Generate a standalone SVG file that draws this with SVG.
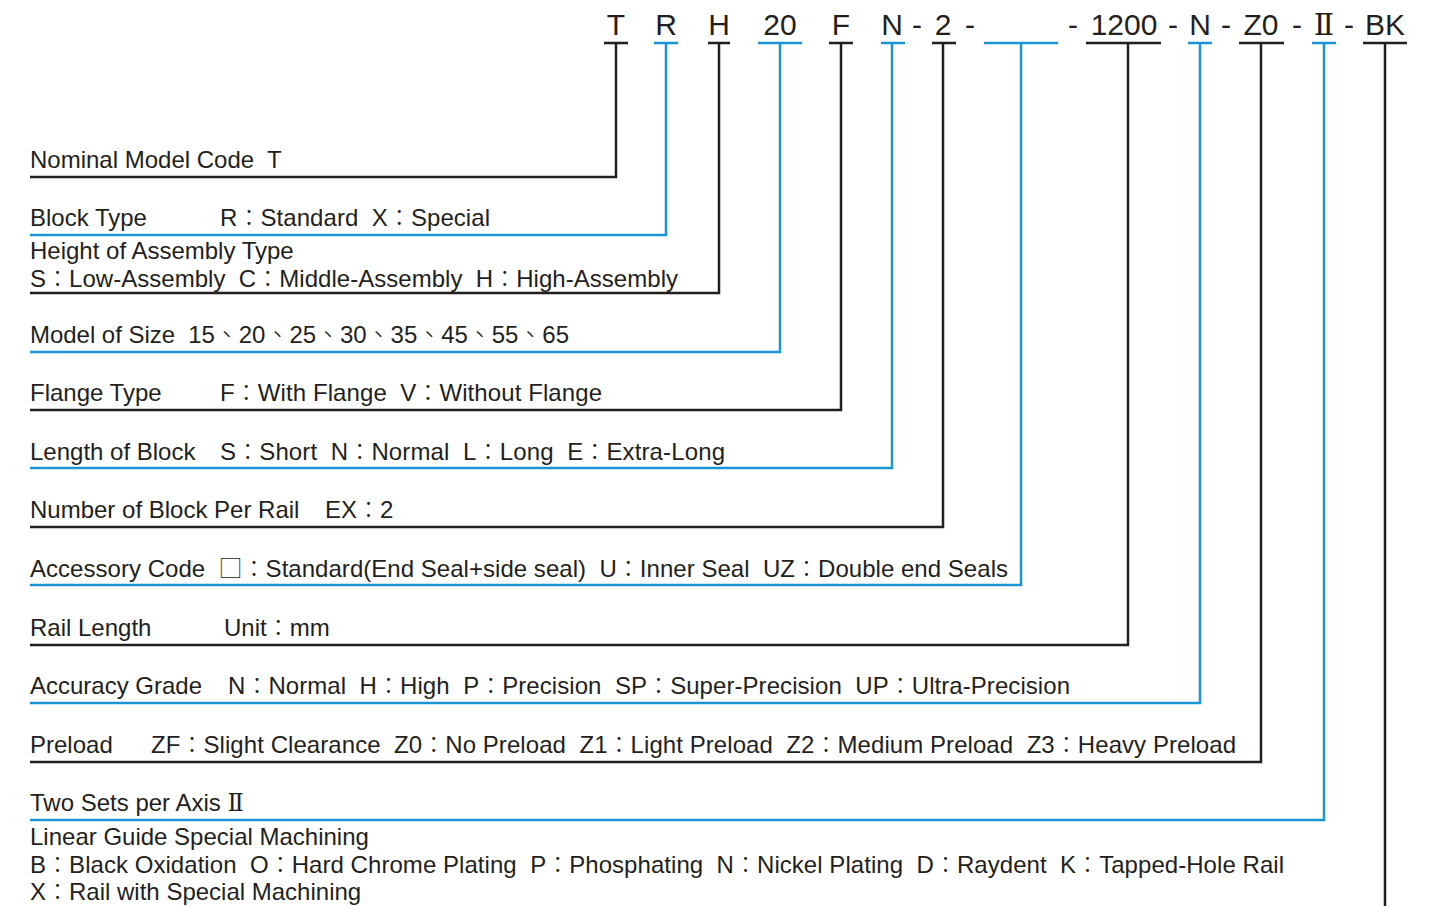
<svg xmlns="http://www.w3.org/2000/svg" width="1435" height="906" viewBox="0 0 1435 906" xml:space="preserve">
<style>
text{font-family:"Liberation Sans","Noto Sans CJK TC",sans-serif;fill:#231f20;white-space:pre}
.t{font-size:24px}
.h{font-size:30px;text-anchor:middle}
.c{font-family:"Noto Sans CJK TC",sans-serif;font-size:23px;font-weight:300}
.q{font-family:"Noto Sans CJK TC",sans-serif;font-size:24px;font-weight:300}
.r{font-family:"DejaVu Serif","Noto Sans CJK TC",serif}
.k{fill:none;stroke:#231f20;stroke-width:2.5}
.b{fill:none;stroke:#1a94d4;stroke-width:2.5}
</style>
<rect width="1435" height="906" fill="#ffffff"/>
<g id="header">
<text class="h" x="616" y="35">T</text>
<text class="h" x="666" y="35">R</text>
<text class="h" x="719" y="35">H</text>
<text class="h" x="780" y="35">20</text>
<text class="h" x="841" y="35">F</text>
<text class="h" x="892" y="35">N</text>
<text class="h" x="917" y="35">-</text>
<text class="h" x="943" y="35">2</text>
<text class="h" x="970" y="35">-</text>
<text class="h" x="1073" y="35">-</text>
<text class="h" x="1124" y="35">1200</text>
<text class="h" x="1173" y="35">-</text>
<text class="h" x="1200" y="35">N</text>
<text class="h" x="1226" y="35">-</text>
<text class="h" x="1261" y="35">Z0</text>
<text class="h" x="1297" y="35">-</text>
<text class="h r" x="1324" y="35">Ⅱ</text>
<text class="h" x="1349" y="35">-</text>
<text class="h" x="1385" y="35">BK</text>
</g>
<g id="connectors">
<path class="k" d="M604 43H628M616 43V177H30"/>
<path class="b" d="M654 43H678M666 43V235H30"/>
<path class="k" d="M708 43H730M719 43V293H30"/>
<path class="b" d="M758 43H802M780 43V352H30"/>
<path class="k" d="M829 43H853M841 43V410H30"/>
<path class="b" d="M881 43H905M892 43V468H30"/>
<path class="k" d="M932 43H956M943 43V527H30"/>
<path class="b" d="M984 43H1058M1021 43V585H30"/>
<path class="k" d="M1086 43H1161M1128 43V645H30"/>
<path class="b" d="M1188 43H1212M1200 43V703H30"/>
<path class="k" d="M1239 43H1284M1261 43V762H30"/>
<path class="b" d="M1312 43H1336M1324 43V820H30"/>
<path class="k" d="M1363 43H1407M1385 43V906"/>
</g>
<g id="nominal"><text class="t" x="30" y="168">Nominal Model Code  T</text></g>
<g id="block-type"><text class="t" x="30" y="226">Block Type</text><text class="t" x="220" y="226" textLength="270" lengthAdjust="spacing">R<tspan class="c">：</tspan>Standard  X<tspan class="c">：</tspan>Special</text></g>
<g id="height"><text class="t" x="30" y="259">Height of Assembly Type</text><text class="t" x="30" y="287" textLength="648" lengthAdjust="spacing">S<tspan class="c">：</tspan>Low-Assembly  C<tspan class="c">：</tspan>Middle-Assembly  H<tspan class="c">：</tspan>High-Assembly</text></g>
<g id="size"><text class="t" x="30" y="343" textLength="539" lengthAdjust="spacing">Model of Size  15<tspan class="q">、</tspan>20<tspan class="q">、</tspan>25<tspan class="q">、</tspan>30<tspan class="q">、</tspan>35<tspan class="q">、</tspan>45<tspan class="q">、</tspan>55<tspan class="q">、</tspan>65</text></g>
<g id="flange"><text class="t" x="30" y="401">Flange Type</text><text class="t" x="220" y="401" textLength="382" lengthAdjust="spacing">F<tspan class="c">：</tspan>With Flange  V<tspan class="c">：</tspan>Without Flange</text></g>
<g id="length"><text class="t" x="30" y="460">Length of Block</text><text class="t" x="220" y="460" textLength="505" lengthAdjust="spacing">S<tspan class="c">：</tspan>Short  N<tspan class="c">：</tspan>Normal  L<tspan class="c">：</tspan>Long  E<tspan class="c">：</tspan>Extra-Long</text></g>
<g id="number"><text class="t" x="30" y="518">Number of Block Per Rail</text><text class="t" x="325" y="518">EX<tspan class="c">：</tspan>2</text></g>
<g id="accessory"><text class="t" x="30" y="577" textLength="978" lengthAdjust="spacing">Accessory Code  <tspan class="q">□</tspan><tspan class="c">：</tspan>Standard(End Seal+side seal)  U<tspan class="c">：</tspan>Inner Seal  UZ<tspan class="c">：</tspan>Double end Seals</text></g>
<g id="rail-length"><text class="t" x="30" y="636">Rail Length</text><text class="t" x="224" y="636">Unit<tspan class="c">：</tspan>mm</text></g>
<g id="accuracy"><text class="t" x="30" y="694">Accuracy Grade</text><text class="t" x="228" y="694" textLength="842" lengthAdjust="spacing">N<tspan class="c">：</tspan>Normal  H<tspan class="c">：</tspan>High  P<tspan class="c">：</tspan>Precision  SP<tspan class="c">：</tspan>Super-Precision  UP<tspan class="c">：</tspan>Ultra-Precision</text></g>
<g id="preload"><text class="t" x="30" y="753">Preload</text><text class="t" x="151" y="753" textLength="1085" lengthAdjust="spacing">ZF<tspan class="c">：</tspan>Slight Clearance  Z0<tspan class="c">：</tspan>No Preload  Z1<tspan class="c">：</tspan>Light Preload  Z2<tspan class="c">：</tspan>Medium Preload  Z3<tspan class="c">：</tspan>Heavy Preload</text></g>
<g id="two-sets"><text class="t" x="30" y="811">Two Sets per Axis <tspan class="r">Ⅱ</tspan></text></g>
<g id="machining"><text class="t" x="30" y="845">Linear Guide Special Machining</text><text class="t" x="30" y="873" textLength="1254" lengthAdjust="spacing">B<tspan class="c">：</tspan>Black Oxidation  O<tspan class="c">：</tspan>Hard Chrome Plating  P<tspan class="c">：</tspan>Phosphating  N<tspan class="c">：</tspan>Nickel Plating  D<tspan class="c">：</tspan>Raydent  K<tspan class="c">：</tspan>Tapped-Hole Rail</text><text class="t" x="30" y="900">X<tspan class="c">：</tspan>Rail with Special Machining</text></g>
</svg>
